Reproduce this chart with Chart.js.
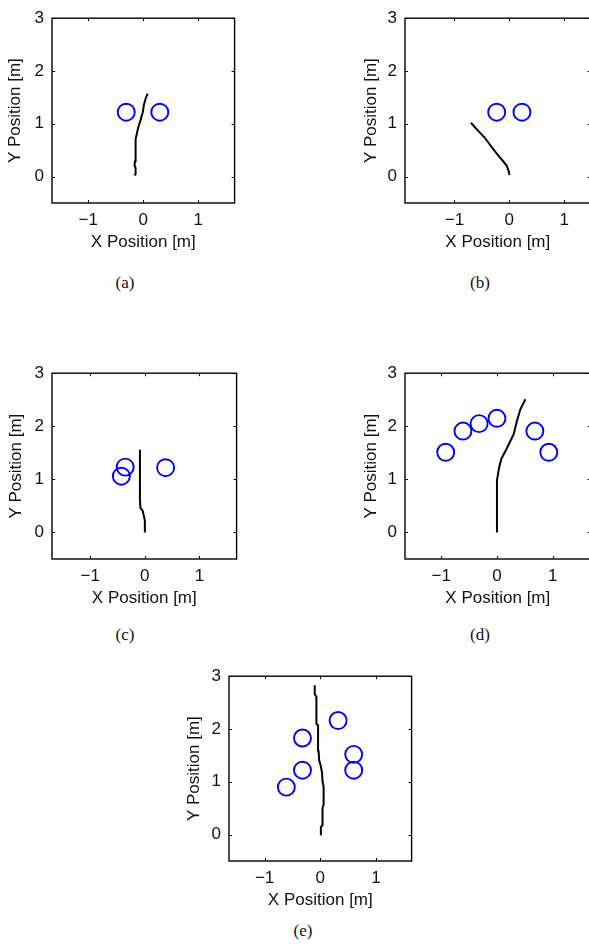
<!DOCTYPE html>
<html>
<head>
<meta charset="utf-8">
<script src="https://cdn.jsdelivr.net/npm/chart.js@4/dist/chart.umd.min.js"></script>
<style>
  html, body { margin: 0; padding: 0; background: #fff; }
  body { width: 589px; height: 947px; position: relative; overflow: hidden; }
  canvas { position: absolute; }
  .cap { position: absolute; font-family: "Liberation Serif", "Times New Roman", serif; font-size: 17px; color: #111; transform: translate(-50%, -50%); }
</style>
</head>
<body>
<script>
// tick labels and axis titles
const xTicks = [-1, 0, 1];
const yTicks = [0, 1, 2, 3];
const xTitle = 'X Position [m]';
const yTitle = 'Y Position [m]';
const captions = ['(a)', '(b)', '(c)', '(d)', '(e)'];

// (a) walked path and people positions
const aPathX = [-0.16, -0.14, -0.14, -0.16, -0.15, -0.14, -0.14, -0.12, -0.09, -0.05, -0.01, 0.01, 0.04, 0.08];
const aPathY = [0.02, 0.05, 0.16, 0.22, 0.29, 0.34, 0.71, 0.80, 0.94, 1.07, 1.22, 1.35, 1.47, 1.57];
const aPeopleX = [-0.31, 0.30];
const aPeopleY = [1.22, 1.22];

// (b)
const bPathX = [0.0, -0.01, -0.05, -0.12, -0.21, -0.33, -0.45, -0.58, -0.70];
const bPathY = [0.03, 0.10, 0.21, 0.30, 0.41, 0.57, 0.74, 0.88, 1.02];
const bPeopleX = [-0.23, 0.23];
const bPeopleY = [1.22, 1.22];

// (c)
const cPathX = [0.0, 0.0, -0.02, -0.04, -0.08, -0.09, -0.09, -0.09];
const cPathY = [0.0, 0.23, 0.32, 0.41, 0.46, 0.62, 0.98, 1.56];
const cPeopleX = [-0.36, -0.43, 0.38];
const cPeopleY = [1.23, 1.06, 1.22];

// (d)
const dPathX = [0.0, 0.0, 0.04, 0.08, 0.16, 0.23, 0.30, 0.36, 0.42, 0.51];
const dPathY = [0.0, 0.98, 1.23, 1.39, 1.55, 1.70, 1.85, 2.11, 2.32, 2.51];
const dPeopleX = [-0.92, -0.61, -0.32, 0.0, 0.68, 0.93];
const dPeopleY = [1.51, 1.91, 2.05, 2.15, 1.91, 1.51];

// (e)
const ePathX = [0.0, 0.01, 0.04, 0.04, 0.06, 0.06, 0.04, 0.03, 0.0, -0.02, -0.03, -0.04, -0.07, -0.07, -0.10, -0.10];
const ePathY = [0.0, 0.14, 0.18, 0.51, 0.57, 0.91, 1.00, 1.18, 1.34, 1.40, 1.58, 2.07, 2.10, 2.61, 2.66, 2.83];
const ePeopleX = [-0.61, -0.32, -0.32, 0.32, 0.60, 0.60];
const ePeopleY = [0.90, 1.22, 1.83, 2.16, 1.52, 1.22];

// where each panel's plot box sits on the page, and its x limits
const panels = [
  { path: [aPathX, aPathY], people: [aPeopleX, aPeopleY], box: [52, 11, 235, 203], xr: [-1.66, 1.66], yt: 15, cap: [125, 283] },
  { path: [bPathX, bPathY], people: [bPeopleX, bPeopleY], box: [405, 11, 591, 203], xr: [-1.9, 1.48], yt: 371, cap: [480, 283] },
  { path: [cPathX, cPathY], people: [cPeopleX, cPeopleY], box: [52, 366, 237, 559], xr: [-1.7, 1.68], yt: 16, cap: [125, 635] },
  { path: [dPathX, dPathY], people: [dPeopleX, dPeopleY], box: [405, 366, 591, 559], xr: [-1.65, 1.68], yt: 371, cap: [480, 635] },
  { path: [ePathX, ePathY], people: [ePeopleX, ePeopleY], box: [229, 669, 412, 861], xr: [-1.64, 1.64], yt: 194, cap: [303, 931] }
];

Chart.defaults.font.family = '"Liberation Sans", Arial, sans-serif';
Chart.defaults.font.size = 17;
Chart.defaults.color = '#111';

const toPts = (xs, ys) => xs.map((x, i) => ({ x: x, y: ys[i] }));
const fmt = v => (v < 0 ? '\u2212' + Math.abs(v) : String(v));

// matlab style box with inward ticks on all four sides
const framePlugin = {
  id: 'frame',
  afterDraw(chart) {
    const { ctx, chartArea: a, scales } = chart;
    ctx.save();
    ctx.strokeStyle = '#000';
    ctx.lineWidth = 1;
    ctx.beginPath();
    scales.x.ticks.forEach(t => {
      const p = Math.round(scales.x.getPixelForValue(t.value)) + 0.5;
      ctx.moveTo(p, a.bottom); ctx.lineTo(p, a.bottom - 3);
      ctx.moveTo(p, a.top); ctx.lineTo(p, a.top + 3);
    });
    scales.y.ticks.forEach(t => {
      const p = Math.round(scales.y.getPixelForValue(t.value)) + 0.5;
      ctx.moveTo(a.left, p); ctx.lineTo(a.left + 3, p);
      ctx.moveTo(a.right, p); ctx.lineTo(a.right - 3, p);
    });
    ctx.stroke();
    ctx.lineWidth = 1.4;
    ctx.strokeRect(a.left, a.top, a.right - a.left, a.bottom - a.top);
    ctx.restore();
  }
};

const yW = 56, padT = 11, xH = 50, padR = 10;

panels.forEach((pn, i) => {
  const [L, T, R, B] = pn.box;
  const cv = document.createElement('canvas');
  cv.width = yW + (R - L) + padR;
  cv.height = padT + (B - T) + xH;
  cv.style.left = (L - yW) + 'px';
  cv.style.top = (T - padT) + 'px';
  document.body.appendChild(cv);

  const cap = document.createElement('div');
  cap.className = 'cap';
  cap.textContent = captions[i];
  cap.style.left = pn.cap[0] + 'px';
  cap.style.top = pn.cap[1] + 'px';
  document.body.appendChild(cap);

  new Chart(cv, {
    type: 'scatter',
    data: {
      datasets: [
        {
          data: toPts(pn.path[0], pn.path[1]),
          showLine: true,
          borderColor: '#000',
          borderWidth: 2,
          pointRadius: 0,
          tension: 0
        },
        {
          data: toPts(pn.people[0], pn.people[1]),
          showLine: false,
          pointRadius: 8.5,
          pointBorderWidth: 1.9,
          pointBorderColor: '#0000ff',
          pointBackgroundColor: 'rgba(0,0,0,0)'
        }
      ]
    },
    options: {
      responsive: false,
      animation: false,
      layout: { padding: { top: padT, right: padR, bottom: 0, left: 0 } },
      plugins: { legend: { display: false }, tooltip: { enabled: false } },
      scales: {
        x: {
          type: 'linear',
          min: pn.xr[0],
          max: pn.xr[1],
          grid: { display: false, drawTicks: false },
          border: { display: false },
          afterBuildTicks: s => { s.ticks = xTicks.map(v => ({ value: v })); },
          afterFit: s => { s.height = xH; },
          ticks: { autoSkip: false, maxRotation: 0, padding: 7, callback: fmt },
          title: { display: true, text: xTitle, padding: { top: 0, bottom: 0 } }
        },
        y: {
          type: 'linear',
          min: -0.5,
          max: 3,
          grid: { display: false, drawTicks: false },
          border: { display: false },
          afterBuildTicks: s => { s.ticks = yTicks.map(v => ({ value: v })); },
          afterFit: s => { s.width = yW; },
          ticks: { autoSkip: false, padding: 8, callback: fmt },
          title: { display: true, text: yTitle, padding: { top: pn.yt - (L - yW) - 10.2, bottom: 0 } }
        }
      }
    },
    plugins: [framePlugin]
  });
});
</script>
</body>
</html>
